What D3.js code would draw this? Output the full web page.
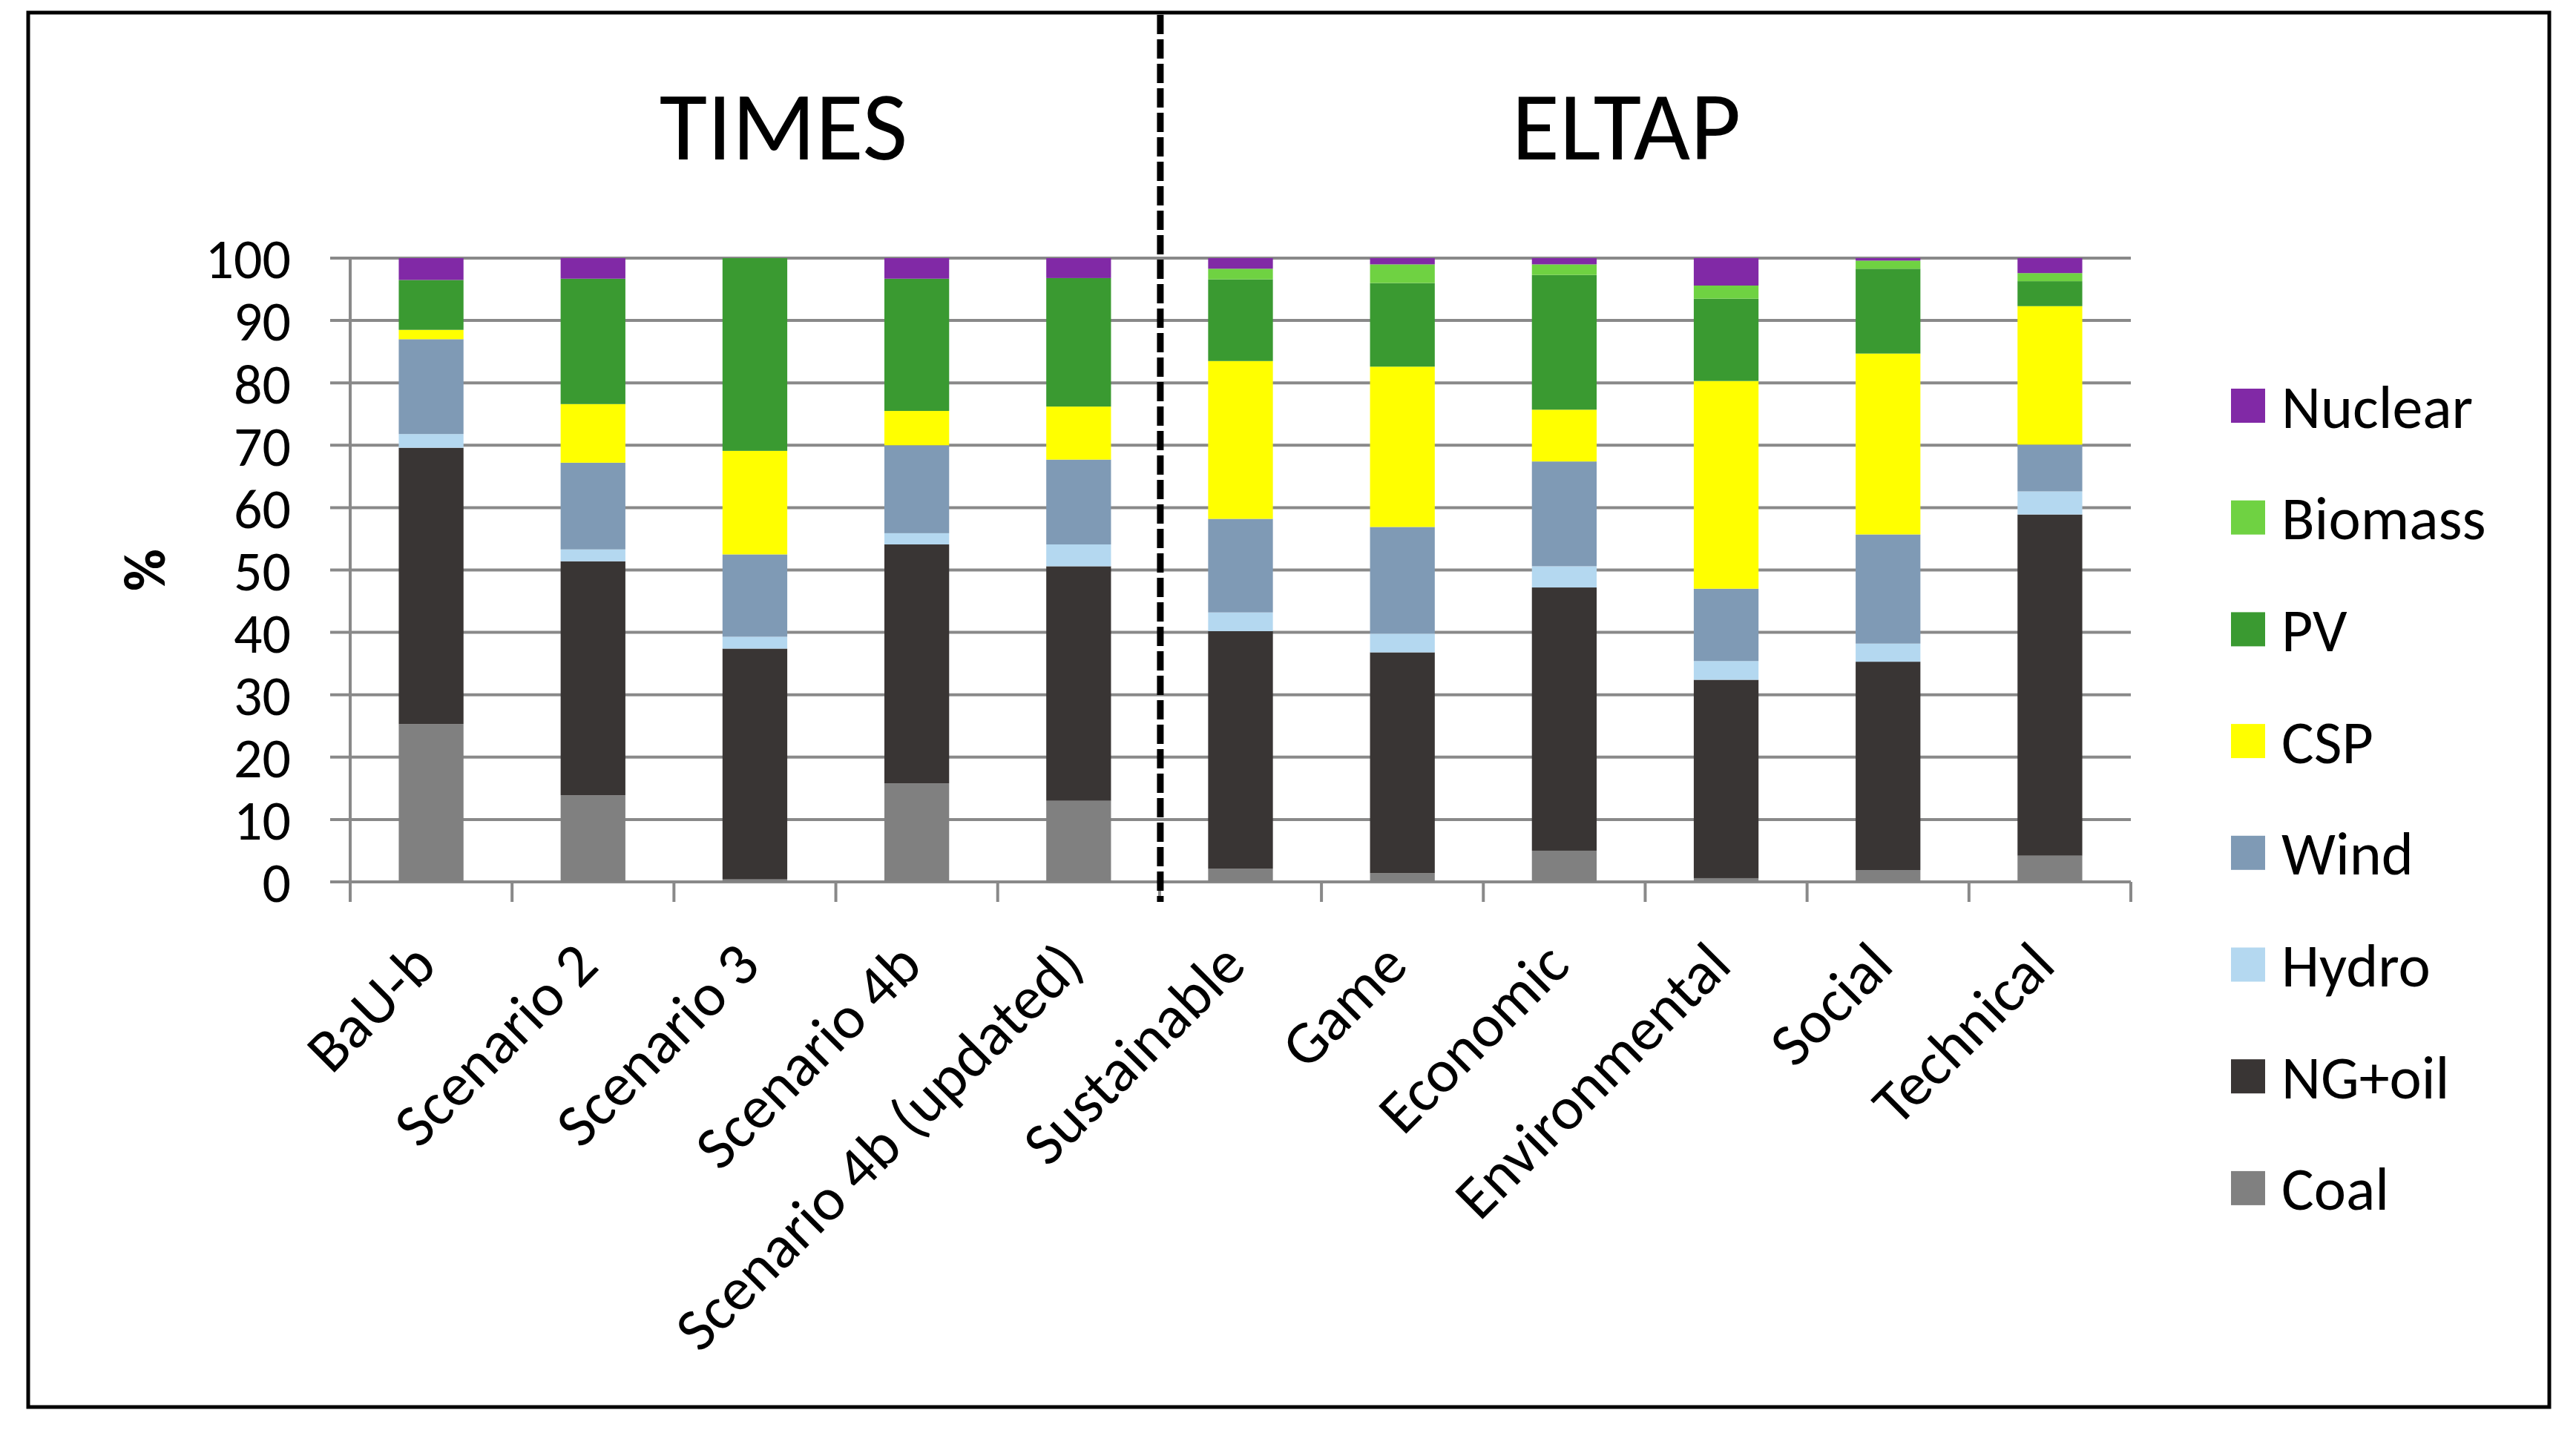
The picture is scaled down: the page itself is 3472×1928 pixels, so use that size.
<!DOCTYPE html>
<html>
<head>
<meta charset="utf-8">
<script src="https://cdn.jsdelivr.net/npm/d3@7"></script>
<style>
    body { margin: 0; background: #fff; }
    text { font-family: Carlito, Calibri, Lato, sans-serif; fill: #000; }
</style>
</head>
<body>
<svg id="chart" width="3472" height="1928"></svg>
<script>
var categories = ["BaU-b", "Scenario 2", "Scenario 3", "Scenario 4b", "Scenario 4b (updated)",
                  "Sustainable", "Game", "Economic", "Environmental", "Social", "Technical"];

// stacking order, bottom to top
var series = ["Coal", "NG+oil", "Hydro", "Wind", "CSP", "PV", "Biomass", "Nuclear"];

var coal    = [25.3, 13.9,  0.4, 15.8, 13.0,  2.1,  1.4,  5.0,  0.6,  1.9,  4.2];
var ngoil   = [44.3, 37.5, 37.0, 38.3, 37.6, 38.1, 35.4, 42.2, 31.8, 33.4, 54.7];
var hydro   = [ 2.2,  1.9,  1.9,  1.8,  3.5,  3.0,  3.0,  3.4,  3.0,  2.9,  3.7];
var wind    = [15.2, 13.9, 13.2, 14.1, 13.6, 15.0, 17.1, 16.8, 11.6, 17.5,  7.5];
var csp     = [ 1.5,  9.4, 16.6,  5.5,  8.5, 25.3, 25.7,  8.3, 33.3, 29.0, 22.2];
var pv      = [ 8.0, 20.1, 30.9, 21.2, 20.6, 13.1, 13.4, 21.6, 13.2, 13.6,  4.0];
var biomass = [ 0.0,  0.0,  0.0,  0.0,  0.0,  1.7,  3.0,  1.7,  2.1,  1.3,  1.3];
var nuclear = [ 3.5,  3.3,  0.0,  3.3,  3.2,  1.7,  1.0,  1.0,  4.4,  0.4,  2.4];

var yTicks = [0, 10, 20, 30, 40, 50, 60, 70, 80, 90, 100];
var groupTitles = ["TIMES", "ELTAP"];

var colors = {
    "Coal":    "#808080",
    "NG+oil":  "#393534",
    "Hydro":   "#b4d8f0",
    "Wind":    "#7f9ab5",
    "CSP":     "#ffff00",
    "PV":      "#3a9a31",
    "Biomass": "#6fd242",
    "Nuclear": "#8129a6"
};

var values = [coal, ngoil, hydro, wind, csp, pv, biomass, nuclear];

var rows = categories.map(function(c, i) {
    var r = { cat: c };
    series.forEach(function(s, j) { r[s] = values[j][i]; });
    return r;
});

var svg = d3.select("#chart");

var pLeft = 472, pRight = 2872, pTop = 348, pBottom = 1189;

var x = d3.scaleBand().domain(categories).range([pLeft, pRight]).paddingInner(0.6).paddingOuter(0.3);
var xb = d3.scaleBand().domain(categories).range([pLeft, pRight]);
var y = d3.scaleLinear().domain([0, 100]).range([pBottom, pTop]);

// outer frame
svg.append("rect")
    .attr("x", 38).attr("y", 17)
    .attr("width", 3398).attr("height", 1880)
    .style("fill", "none")
    .style("stroke", "#000")
    .style("stroke-width", 5);

// gridlines
svg.append("g").selectAll("line")
    .data(yTicks)
    .enter().append("line")
    .attr("x1", pLeft - 27).attr("x2", pRight)
    .attr("y1", function(d) { return y(d); })
    .attr("y2", function(d) { return y(d); })
    .style("stroke", "#898989")
    .style("stroke-width", 4);

// y axis line
svg.append("line")
    .attr("x1", pLeft).attr("x2", pLeft)
    .attr("y1", y(100)).attr("y2", y(0) + 2)
    .style("stroke", "#898989")
    .style("stroke-width", 4);

// category ticks
svg.append("g").selectAll("line")
    .data(categories.concat(["end"]))
    .enter().append("line")
    .attr("x1", function(d, i) { return pLeft + i * xb.step(); })
    .attr("x2", function(d, i) { return pLeft + i * xb.step(); })
    .attr("y1", pBottom).attr("y2", pBottom + 27)
    .style("stroke", "#898989")
    .style("stroke-width", 4);

// stacked bars
var stack = d3.stack().keys(series)(rows);

svg.append("g").selectAll("g")
    .data(stack)
    .enter().append("g")
    .style("fill", function(d) { return colors[d.key]; })
    .selectAll("rect")
    .data(function(d) { return d; })
    .enter().append("rect")
    .attr("x", function(d) { return x(d.data.cat); })
    .attr("width", x.bandwidth())
    .attr("y", function(d) { return y(d[1]); })
    .attr("height", function(d) { return Math.max(0, y(d[0]) - y(d[1])); });

// y tick labels
svg.append("g").selectAll("text")
    .data(yTicks)
    .enter().append("text")
    .attr("x", 392)
    .attr("y", function(d) { return y(d); })
    .attr("dy", "0.36em")
    .attr("text-anchor", "end")
    .style("font-size", "76px")
    .text(function(d) { return d; });

// y axis title
svg.append("text")
    .attr("transform", "translate(222," + ((pTop + pBottom) / 2) + ") rotate(-90)")
    .attr("text-anchor", "middle")
    .style("font-size", "78px")
    .style("font-weight", "bold")
    .text("%");

// x tick labels
svg.append("g").selectAll("text")
    .data(categories)
    .enter().append("text")
    .attr("transform", function(d) {
        var cx = xb(d) + xb.bandwidth() / 2;
        return "translate(" + (cx - 10) + "," + (pBottom + 96) + ") rotate(-45)";
    })
    .attr("text-anchor", "end")
    .attr("dy", "0.35em")
    .style("font-size", "82px")
    .text(function(d) { return d; });

// divider between the two model groups
var split = pLeft + 5 * xb.step();
svg.append("line")
    .attr("x1", split + 1).attr("x2", split + 1)
    .attr("y1", 20).attr("y2", pBottom + 27)
    .style("stroke", "#000")
    .style("stroke-width", 9)
    .style("stroke-dasharray", "26 7");

// group titles
svg.append("text")
    .attr("x", 1056)
    .attr("y", 215)
    .attr("text-anchor", "middle")
    .style("font-size", "132px")
    .text(groupTitles[0]);

svg.append("text")
    .attr("x", 2192)
    .attr("y", 215)
    .attr("text-anchor", "middle")
    .style("font-size", "132px")
    .text(groupTitles[1]);

// legend, top to bottom
var legendItems = series.slice().reverse();
var lg = svg.append("g").selectAll("g")
    .data(legendItems)
    .enter().append("g")
    .attr("transform", function(d, i) { return "translate(3007," + (547 + i * 150.7) + ")"; });

lg.append("rect")
    .attr("x", 0).attr("y", -23)
    .attr("width", 46).attr("height", 46)
    .style("fill", function(d) { return colors[d]; });

lg.append("text")
    .attr("x", 68)
    .attr("dy", "0.36em")
    .style("font-size", "82px")
    .text(function(d) { return d; });
</script>
</body>
</html>
